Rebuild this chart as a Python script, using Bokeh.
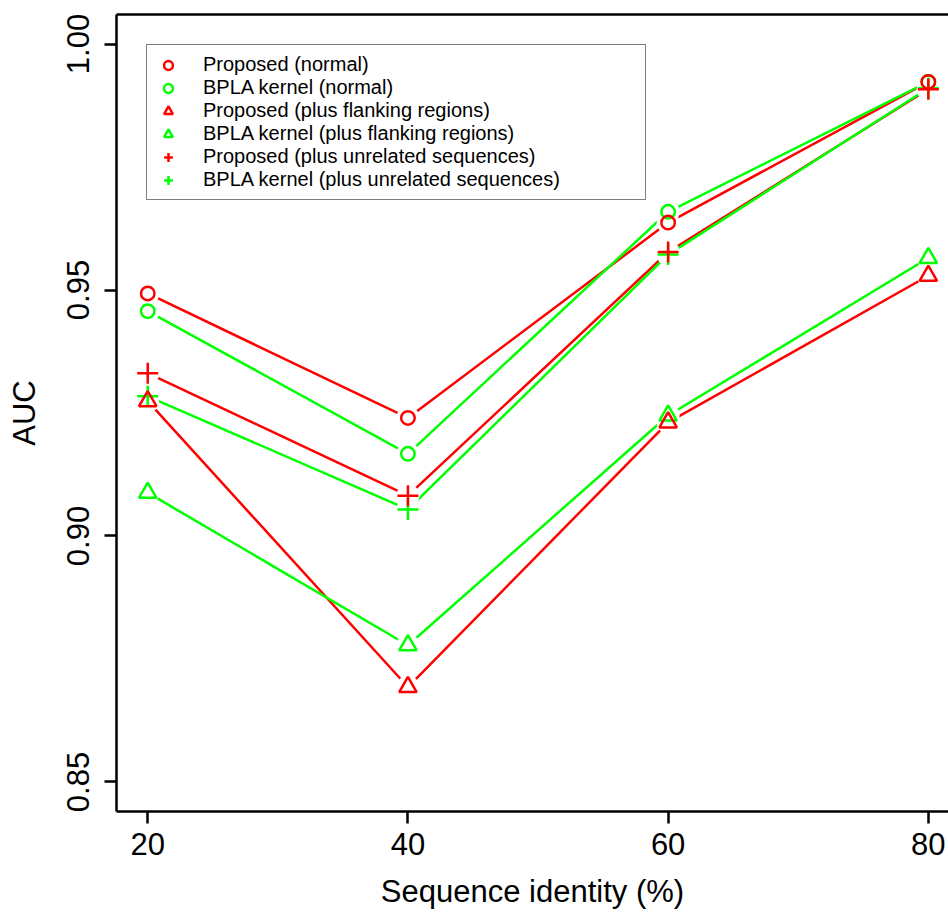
from bokeh.plotting import figure
from bokeh.models import (FixedTicker, LinearAxis, Legend, LegendItem, Range1d,
                          PrintfTickFormatter)
from bokeh.embed import file_html
from bokeh.resources import INLINE

# ---- data ----
identity = [20, 40, 60, 80]
proposed_normal = [0.9493, 0.9240, 0.9637, 0.9923]
bpla_normal = [0.9457, 0.9167, 0.9659, 0.9923]
proposed_flank = [0.9274, 0.8693, 0.9231, 0.9529]
bpla_flank = [0.9088, 0.8778, 0.9245, 0.9565]
proposed_unrel = [0.9331, 0.9082, 0.9577, 0.9908]
bpla_unrel = [0.9284, 0.9054, 0.9572, 0.9910]

labels = ["Proposed (normal)", "BPLA kernel (normal)",
          "Proposed (plus flanking regions)", "BPLA kernel (plus flanking regions)",
          "Proposed (plus unrelated sequences)", "BPLA kernel (plus unrelated sequences)"]
x_ticks = [20, 40, 60, 80]
y_ticks = [0.85, 0.90, 0.95, 1.00]
x_label = "Sequence identity (%)"
y_label = "AUC"

RED = "#FF0000"
GREEN = "#00FF00"
FONT = "Liberation Sans"

series = [
    (labels[0], proposed_normal, RED, "circle", 13.5),
    (labels[1], bpla_normal, GREEN, "circle", 13.5),
    (labels[2], proposed_flank, RED, "triangle", 17.5),
    (labels[3], bpla_flank, GREEN, "triangle", 17.5),
    (labels[4], proposed_unrel, RED, "cross", 21),
    (labels[5], bpla_unrel, GREEN, "cross", 21),
]

p = figure(width=948, height=915, output_backend="svg", toolbar_location=None,
           x_range=Range1d(17.6, 81.55), y_range=Range1d(0.844, 1.006),
           min_border_left=116, min_border_right=0, min_border_top=14,
           min_border_bottom=104)
p.outline_line_color = None
p.grid.visible = False
p.background_fill_color = "white"
p.border_fill_color = "white"

xaxis = p.below[0]
yaxis = p.left[0]

top_axis = LinearAxis(ticker=FixedTicker(ticks=[]), major_label_text_font_size="0px",
                      major_tick_line_color=None, minor_tick_line_color=None,
                      major_tick_out=0, major_tick_in=0,
                      axis_line_width=2.5, axis_line_color="black",
                      major_label_standoff=0)
p.add_layout(top_axis, "above")

for ax in (xaxis, yaxis):
    ax.axis_line_width = 2.5
    ax.axis_line_color = "black"
    ax.major_tick_line_width = 2.5
    ax.major_tick_line_color = "black"
    ax.major_tick_out = 12
    ax.major_tick_in = 0
    ax.minor_tick_line_color = None
    ax.major_label_text_font = FONT
    ax.major_label_text_font_size = "31px"
    ax.major_label_text_color = "black"
    ax.axis_label_text_font = FONT
    ax.axis_label_text_font_size = "31px"
    ax.axis_label_text_font_style = "normal"
    ax.axis_label_text_color = "black"

xaxis.ticker = FixedTicker(ticks=x_ticks)
yaxis.ticker = FixedTicker(ticks=y_ticks)
yaxis.formatter = PrintfTickFormatter(format="%.2f")
yaxis.major_label_orientation = "vertical"
xaxis.axis_label = x_label
yaxis.axis_label = y_label
xaxis.major_label_standoff = 9
xaxis.axis_label_standoff = 16
yaxis.major_label_standoff = 15
yaxis.axis_label_standoff = 23

# lines
for name, vals, color, marker, size in series:
    p.line(identity, vals, line_color=color, line_width=2.5)

# white halos to create the gaps of R's type="b"
for name, vals, color, marker, size in series:
    p.scatter(identity, vals, marker="circle", size=23, fill_color="white",
              line_color=None)

# markers (green first, then red on top)
renderers = {}
order = [1, 3, 5, 0, 2, 4]
for i in order:
    name, vals, color, marker, size = series[i]
    r = p.scatter(identity, vals, marker=marker, size=size, fill_color=None,
                  line_color=color, line_width=2.5)
    renderers[i] = r

items = [LegendItem(label=series[i][0], renderers=[renderers[i]]) for i in range(6)]
legend = Legend(items=items, location="top_left", margin=30, padding=8,
                glyph_width=26, glyph_height=22, label_height=22, spacing=0,
                label_standoff=22, label_width=434, label_text_font=FONT,
                label_text_font_size="20px",
                label_text_color="black",
                border_line_color="black", border_line_width=1.5,
                background_fill_color="white", background_fill_alpha=1.0)
p.add_layout(legend)

open("out.html", "w").write(file_html(p, INLINE))
